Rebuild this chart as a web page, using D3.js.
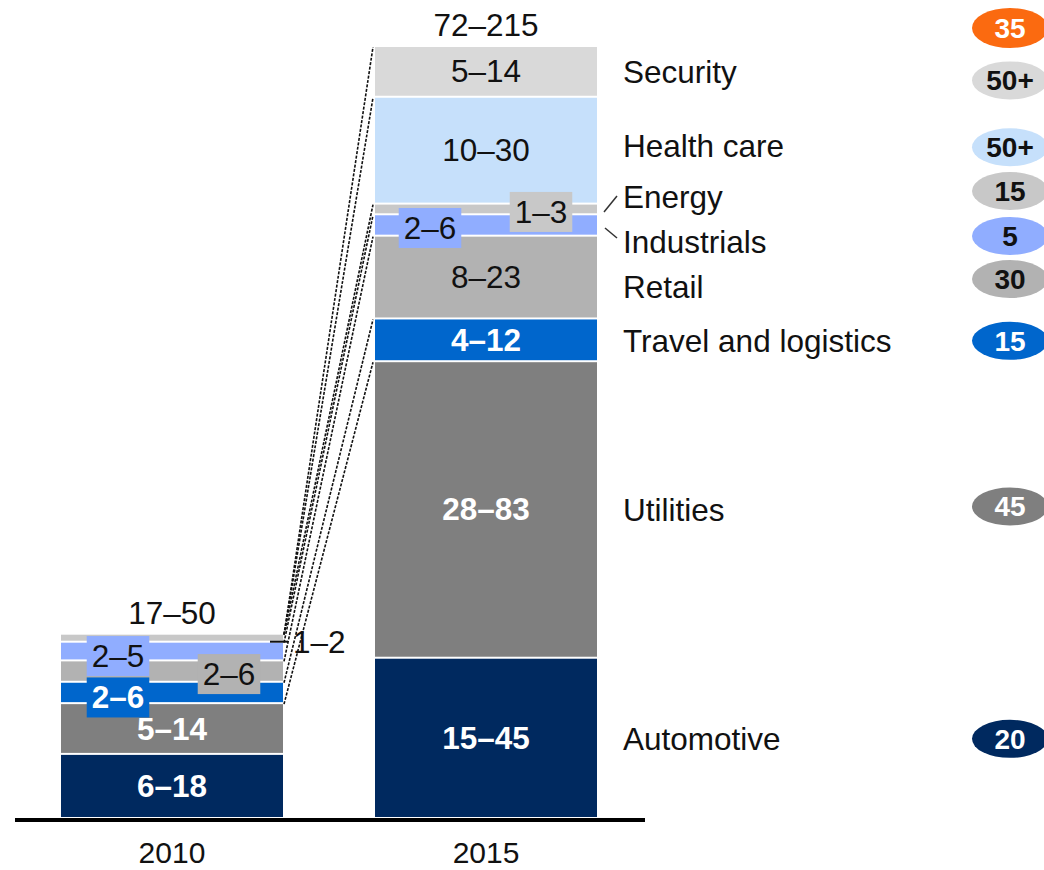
<!DOCTYPE html>
<html>
<head>
<meta charset="utf-8">
<script src="https://cdn.jsdelivr.net/npm/d3@7"></script>
<style>
  body { margin: 0; background: #fff; }
  svg text { font-family: "Liberation Sans", Arial, Helvetica, sans-serif; }
</style>
</head>
<body>
<script>
// ---- data ----
const years = ['2010', '2015'];
const categories = ['Automotive', 'Utilities', 'Travel and logistics', 'Retail',
                    'Industrials', 'Energy', 'Health care', 'Security'];
const low2010  = [6, 5, 2, 2, 2, 1, 0, 0];
const high2010 = [18, 14, 6, 6, 5, 2, 0, 0];
const low2015  = [15, 28, 4, 8, 2, 1, 10, 5];
const high2015 = [45, 83, 12, 23, 6, 3, 30, 14];
const totalLabels = ['17–50', '72–215'];
const growth = ['20', '45', '15', '30', '5', '15', '50+', '50+'];
const totalGrowth = '35';

// ---- styles ----
const fills = {
  'Automotive': '#00295f',
  'Utilities': '#7f7f7f',
  'Travel and logistics': '#0066cc',
  'Retail': '#b2b2b2',
  'Industrials': '#90adff',
  'Energy': '#c8c8c8',
  'Health care': '#c6e0fb',
  'Security': '#d9d9d9'
};
const darkCats = ['Automotive', 'Utilities', 'Travel and logistics'];
const orange = '#fb6a10';
const FS = 31.5;

// label tweaks where the original moves a label off centre
const labelLayout = {
  '2010|Industrials': { dx: -54, dy: 5, box: true },
  '2010|Retail': { dx: 57, dy: 3, box: true },
  '2010|Travel and logistics': { dx: -54, dy: 5, box: true },
  '2010|Energy': { outside: true, dy: 4 },
  '2015|Industrials': { dx: -56, dy: 3, box: true },
  '2015|Energy': { dx: 55, dy: 3, box: true }
};
const rightNudge = { 'Health care': -5, 'Energy': -13, 'Industrials': 16, 'Retail': 9 };
const bubbleNudge = { 'Security': 8, 'Health care': 1, 'Energy': -6, 'Industrials': -6,
                      'Retail': -8, 'Utilities': -4 };

// ---- build stacked table ----
const table = years.map((yr, j) => {
  const lo = j === 0 ? low2010 : low2015;
  const hi = j === 0 ? high2010 : high2015;
  const row = { year: yr };
  categories.forEach((c, i) => {
    row[c] = (lo[i] + hi[i]) / 2;   // bar height uses middle of the range
    row[c + '_lo'] = lo[i];
    row[c + '_hi'] = hi[i];
  });
  return row;
});
const series = d3.stack().keys(categories)(table);

const svg = d3.select('body').append('svg')
  .attr('width', 1044)
  .attr('height', 870);

const baseY = 819;
const x = d3.scaleBand()
  .domain(years)
  .range([61, 597])
  .paddingInner(0.293)
  .paddingOuter(0);
const y = d3.scaleLinear()
  .domain([0, d3.max(series[series.length - 1], d => d[1])])
  .range([baseY, 47]);

// connectors (drawn first, under the bars)
const connG = svg.append('g');
series.forEach((s, i) => {
  if (i === 0) return;
  connG.append('line')
    .attr('x1', x('2010') + x.bandwidth() + 1)
    .attr('y1', y(s[0][1]))
    .attr('x2', x('2015') - 2)
    .attr('y2', y(s[1][1]))
    .attr('stroke', '#111')
    .attr('stroke-width', 1.6)
    .attr('stroke-dasharray', '3,1.5');
});

// bars
const layer = svg.append('g').selectAll('g')
  .data(series)
  .join('g')
  .attr('fill', d => fills[d.key]);

layer.selectAll('rect')
  .data(d => d.map(v => ({ key: d.key, v: v })))
  .join('rect')
  .attr('x', d => x(d.v.data.year))
  .attr('y', d => y(d.v[1]))
  .attr('width', x.bandwidth())
  .attr('height', d => Math.max(0, y(d.v[0]) - y(d.v[1]) - 2));

// segment labels
const labG = svg.append('g');
series.forEach(s => {
  s.forEach(v => {
    const yr = v.data.year;
    const lo = v.data[s.key + '_lo'], hi = v.data[s.key + '_hi'];
    if (!hi) return;
    const lay = labelLayout[yr + '|' + s.key] || {};
    const cy = (y(v[0]) + y(v[1])) / 2 - 1 + (lay.dy || 0);
    const txt = lo + '–' + hi;
    const dark = darkCats.includes(s.key);
    if (lay.outside) {
      const xr = x(yr) + x.bandwidth();
      labG.append('line')
        .attr('x1', xr - 13).attr('x2', xr + 5)
        .attr('y1', cy).attr('y2', cy)
        .attr('stroke', '#111').attr('stroke-width', 2);
      labG.append('text')
        .attr('x', xr + 10).attr('y', cy)
        .attr('dy', '0.35em')
        .attr('font-size', FS)
        .attr('fill', '#111')
        .text(txt);
      return;
    }
    const cx = x(yr) + x.bandwidth() / 2 + (lay.dx || 0);
    const g = labG.append('g');
    const t = g.append('text')
      .attr('x', cx).attr('y', cy)
      .attr('dy', '0.35em')
      .attr('text-anchor', 'middle')
      .attr('font-size', FS)
      .attr('font-weight', dark ? 'bold' : 'normal')
      .attr('fill', dark ? '#fff' : '#111')
      .text(txt);
    if (lay.box) {
      const bb = t.node().getBBox();
      g.insert('rect', 'text')
        .attr('x', bb.x - 5).attr('y', cy - 20)
        .attr('width', bb.width + 10).attr('height', 40)
        .attr('fill', fills[s.key]);
    }
  });
});

// totals above bars
years.forEach((yr, j) => {
  const top = series[series.length - 1][j][1];
  svg.append('text')
    .attr('x', x(yr) + x.bandwidth() / 2)
    .attr('y', y(top) - 22)
    .attr('dy', '0.35em')
    .attr('text-anchor', 'middle')
    .attr('font-size', FS)
    .attr('fill', '#111')
    .text(totalLabels[j]);
});

// baseline + year axis
svg.append('line')
  .attr('x1', 15).attr('x2', 645)
  .attr('y1', baseY + 1).attr('y2', baseY + 1)
  .attr('stroke', '#000').attr('stroke-width', 4);

const xAxis = d3.axisBottom(x).tickSize(0).tickPadding(24);
const axG = svg.append('g')
  .attr('transform', `translate(0,${baseY})`)
  .call(xAxis);
axG.select('.domain').remove();
axG.selectAll('text')
  .attr('font-size', 30)
  .attr('fill', '#111')
  .attr('dy', '0.66em')
  .style('font-family', '"Liberation Sans", Arial, sans-serif');

// category names on the right + growth bubbles
const s2015 = series.map(s => s[1]);
const bubbleX = 1010;
categories.forEach((c, i) => {
  const mid = (y(s2015[i][0]) + y(s2015[i][1])) / 2;
  const ly = mid + (rightNudge[c] || 0);
  svg.append('text')
    .attr('x', 623).attr('y', ly)
    .attr('dy', '0.35em')
    .attr('font-size', FS)
    .attr('fill', '#111')
    .text(c);
  if (c === 'Energy') {
    svg.append('line').attr('x1', 604).attr('y1', 212).attr('x2', 617).attr('y2', 196)
      .attr('stroke', '#333').attr('stroke-width', 1.5);
  }
  if (c === 'Industrials') {
    svg.append('line').attr('x1', 605).attr('y1', 228).attr('x2', 617).attr('y2', 238)
      .attr('stroke', '#333').attr('stroke-width', 1.5);
  }
  const by = ly + (bubbleNudge[c] || 0);
  svg.append('ellipse')
    .attr('cx', bubbleX).attr('cy', by)
    .attr('rx', 38).attr('ry', 19)
    .attr('fill', fills[c]);
  svg.append('text')
    .attr('x', bubbleX).attr('y', by)
    .attr('dy', '0.35em')
    .attr('text-anchor', 'middle')
    .attr('font-size', 28)
    .attr('font-weight', 'bold')
    .attr('fill', darkCats.includes(c) ? '#fff' : '#111')
    .text(growth[i]);
});

svg.append('ellipse')
  .attr('cx', bubbleX).attr('cy', 28)
  .attr('rx', 38).attr('ry', 20)
  .attr('fill', orange);
svg.append('text')
  .attr('x', bubbleX).attr('y', 28)
  .attr('dy', '0.35em')
  .attr('text-anchor', 'middle')
  .attr('font-size', 28)
  .attr('font-weight', 'bold')
  .attr('fill', '#fff')
  .text(totalGrowth);
</script>
</body>
</html>
